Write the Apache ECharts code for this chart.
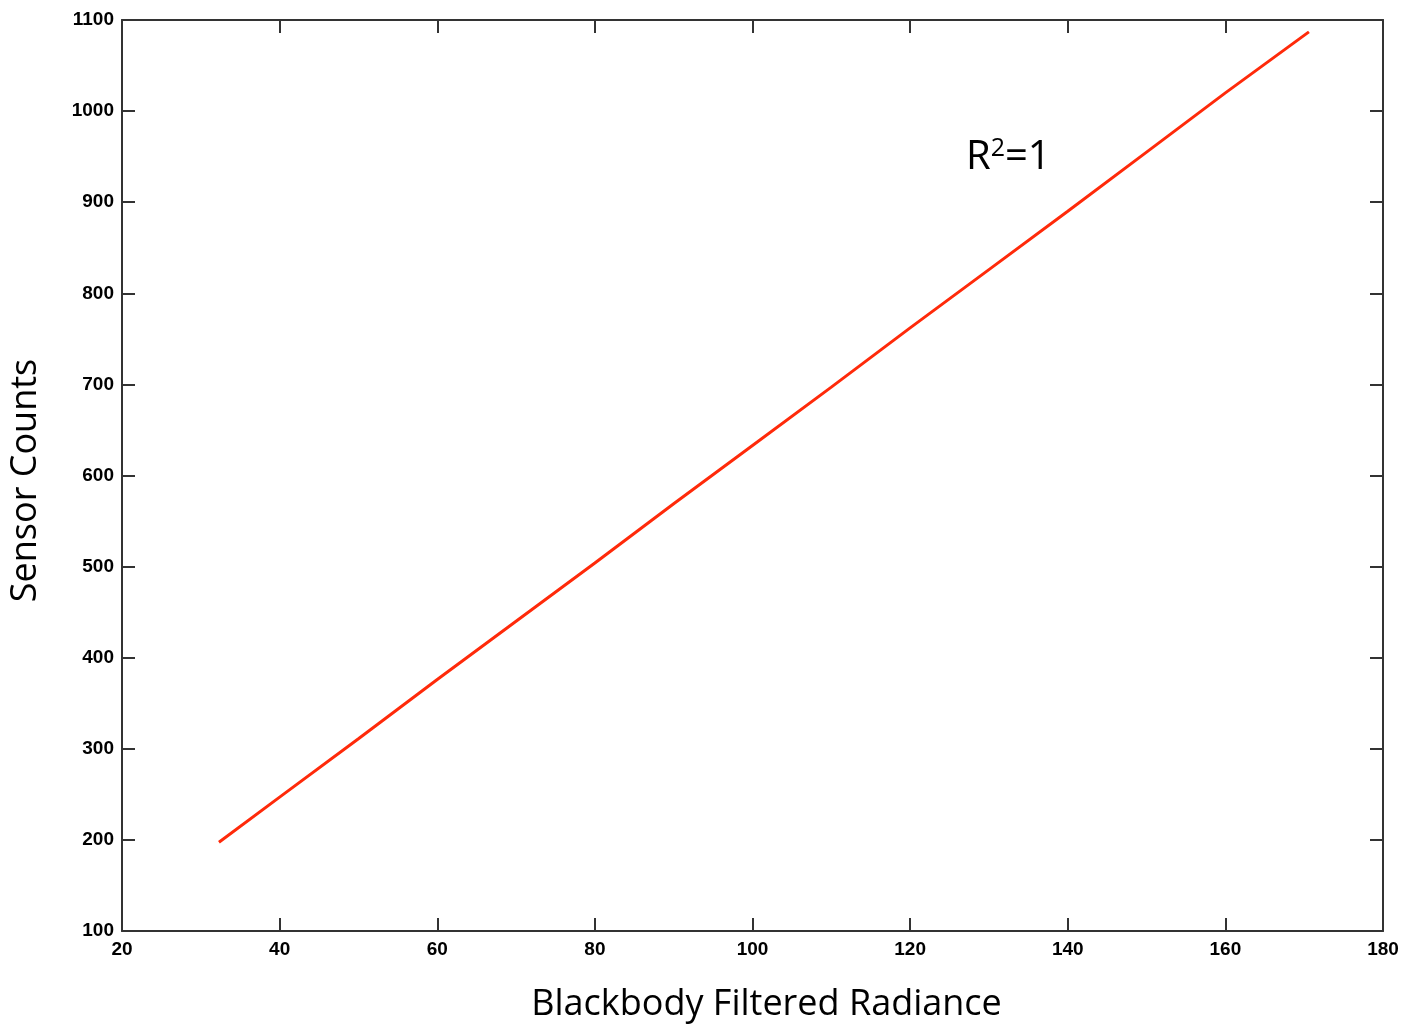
<!DOCTYPE html>
<html>
<head>
<meta charset="utf-8">
<script src="https://cdn.jsdelivr.net/npm/echarts@6/dist/echarts.min.js"></script>
<style>
html,body{margin:0;padding:0;background:#fff;}
#chart{width:1403px;height:1031px;}
</style>
</head>
<body>
<div id="chart"></div>
<script>
// Data
const radiance = [32.3, 40, 50, 60, 70, 80, 90, 100, 110, 120, 130, 140, 150, 160, 170.6];
const counts   = [197.5, 247, 311, 376, 440, 504, 569, 633, 697, 762, 826, 890, 955, 1020, 1087];
const xTitle = 'Blackbody Filtered Radiance';
const yTitle = 'Sensor Counts';

const seriesData = radiance.map((x, i) => [x, counts[i]]);

const chart = echarts.init(document.getElementById('chart'));
const tickLabel = {fontFamily: '"Liberation Sans", Arial, sans-serif', fontWeight: 'bold', fontSize: 19, color: '#000'};
const axisLine = {show: true, lineStyle: {color: '#333', width: 2}};
const axisTick = {show: true, inside: true, length: 13, lineStyle: {color: '#333', width: 2}};

chart.setOption({
  backgroundColor: '#fff',
  animation: false,
  grid: {left: 121, right: 20, top: 20, bottom: 100, containLabel: false},
  xAxis: [{
    type: 'value', min: 20, max: 180, interval: 20, position: 'bottom',
    axisLine, axisTick, splitLine: {show: false},
    axisLabel: Object.assign({margin: 9, formatter: v => String(v)}, tickLabel),
    name: xTitle, nameLocation: 'middle', nameGap: 56,
    nameTextStyle: {fontFamily: '"Open Sans", "Noto Sans", sans-serif', fontSize: 36, color: '#000', padding: [0, 0, 0, 28]}
  }, {
    type: 'value', min: 20, max: 180, interval: 20, position: 'top',
    axisLine, axisTick, splitLine: {show: false}, axisLabel: {show: false}
  }],
  yAxis: [{
    type: 'value', min: 100, max: 1100, interval: 100, position: 'left',
    axisLine, axisTick, splitLine: {show: false},
    axisLabel: Object.assign({margin: 8, formatter: v => String(v)}, tickLabel),
    name: yTitle, nameLocation: 'middle', nameGap: 78, nameRotate: 90,
    nameTextStyle: {fontFamily: '"Open Sans", "Noto Sans", sans-serif', fontSize: 36, color: '#000', padding: [0, 10, 0, 0]}
  }, {
    type: 'value', min: 100, max: 1100, interval: 100, position: 'right',
    axisLine, axisTick, splitLine: {show: false}, axisLabel: {show: false}
  }],
  graphic: [{
    type: 'text', left: 966, top: 136,
    style: {
      text: '{b|R}{s|2}{b|=1}',
      rich: {
        b: {fontFamily: '"Open Sans", "Noto Sans", sans-serif', fontSize: 40, fill: '#000', verticalAlign: 'bottom'},
        s: {fontFamily: '"Open Sans", "Noto Sans", sans-serif', fontSize: 25, fill: '#000', verticalAlign: 'top', padding: [0, 0, 17, 0]}
      }
    }
  }],
  series: [{
    type: 'line', xAxisIndex: 0, yAxisIndex: 0,
    data: seriesData, showSymbol: false, symbol: 'none',
    lineStyle: {color: '#ff2a0a', width: 3}
  }]
});
</script>
</body>
</html>
